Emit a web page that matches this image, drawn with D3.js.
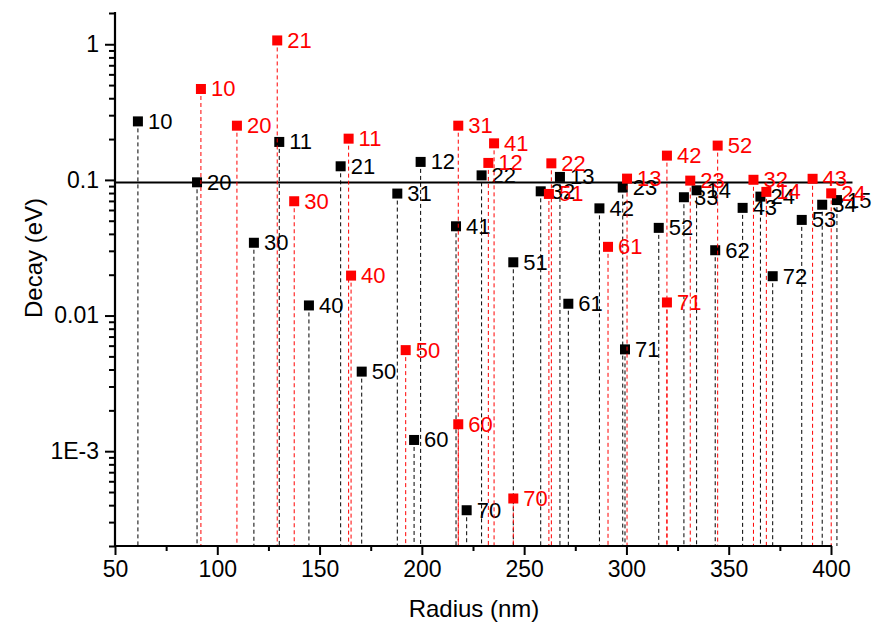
<!DOCTYPE html>
<html>
<head>
<meta charset="utf-8">
<script src="https://cdn.jsdelivr.net/npm/d3@7"></script>
<style>
  html, body { margin: 0; padding: 0; background: #fff; }
  svg { display: block; font-family: Arial, "Liberation Sans", sans-serif; }
</style>
</head>
<body>
<svg id="chart" width="874" height="634"></svg>
<script>
// ---- data ----
const blackLabels = ["10","20","30","40","50","60","70",
                     "11","21","31","41","51","61","71",
                     "12","22","32","42","52","62","72",
                     "13","23","33","43","53",
                     "14","24","34","15"];
const blackRadius = [61.2, 90.1, 117.9, 144.8, 170.6, 196.2, 221.9,
                     130.3, 160.3, 188.0, 216.7, 244.7, 271.6, 299.3,
                     199.4, 229.2, 258.1, 286.8, 315.8, 343.4, 371.5,
                     267.5, 298.2, 328.1, 356.8, 385.7,
                     334.3, 365.5, 395.7, 402.9];
const blackDecay  = [0.270, 0.0960, 0.0344, 0.01187, 0.00386, 0.00121, 0.000367,
                     0.1905, 0.126, 0.0793, 0.0455, 0.0247, 0.01222, 0.00563,
                     0.1357, 0.108, 0.0824, 0.0617, 0.0443, 0.0303, 0.0195,
                     0.1052, 0.0878, 0.0745, 0.0622, 0.0507,
                     0.0838, 0.0753, 0.0656, 0.071];

const redLabels = ["10","20","30","40","50","60","70",
                   "21","11","31","41","51","61","71",
                   "12","22","32","42","52",
                   "13","23","14","43","24"];
const redRadius = [92.0, 109.6, 137.6, 165.4, 192.1, 217.8, 244.7,
                   129.3, 164.2, 217.8, 235.3, 262.1, 291.0, 319.8,
                   232.5, 263.3, 362.1, 319.8, 344.6,
                   300.3, 331.2, 368.4, 391.0, 400.1];
const redDecay  = [0.468, 0.251, 0.0696, 0.0197, 0.00556, 0.00158, 0.000448,
                   1.067, 0.2014, 0.251, 0.186, 0.0788, 0.0321, 0.01249,
                   0.1334, 0.1325, 0.1002, 0.151, 0.179,
                   0.1022, 0.0988, 0.0816, 0.1019, 0.0796];

const refLineX = [50, 410.5];
const refLineY = 0.0955;

const xTickValues = [50, 100, 150, 200, 250, 300, 350, 400];
const xMinorTicks = [75, 125, 175, 225, 275, 325, 375];
const yTickValues = [0.001, 0.01, 0.1, 1];
const yTickLabels = ["1E-3", "0.01", "0.1", "1"];

const xTitle = "Radius (nm)";
const yTitle = "Decay (eV)";

// ---- layout ----
const svg = d3.select("#chart");
const x = d3.scaleLinear().domain([50, 400]).range([115, 831]);
const y = d3.scaleLog().domain([2e-4, 1.7]).range([546, 13]);

const yMinor = [];
[1e-4, 1e-3, 1e-2, 1e-1, 1].forEach(d => {
  for (let k = 2; k <= 9; k++) {
    const v = d * k;
    if (v >= 2e-4 - 1e-12 && v <= 1.7) yMinor.push(v);
  }
});
yMinor.push(1.7);

// reference horizontal line
svg.append("line")
  .attr("x1", x(refLineX[0])).attr("x2", x(refLineX[1]))
  .attr("y1", y(refLineY)).attr("y2", y(refLineY))
  .attr("stroke", "#000").attr("stroke-width", 2);

function drawSeries(rad, dec, labels, color) {
  const data = rad.map((r, i) => ({ r, d: dec[i], l: labels[i] }));
  const g = svg.append("g");
  g.selectAll("line.stem").data(data).enter().append("line")
    .attr("class", "stem")
    .attr("x1", d => x(d.r)).attr("x2", d => x(d.r))
    .attr("y1", d => y(d.d)).attr("y2", y(2e-4))
    .attr("stroke", color).attr("stroke-width", 1)
    .attr("stroke-dasharray", "4,3");
  g.selectAll("rect").data(data).enter().append("rect")
    .attr("x", d => x(d.r) - 5).attr("y", d => y(d.d) - 5)
    .attr("width", 10).attr("height", 10)
    .attr("fill", color);
  g.selectAll("text").data(data).enter().append("text")
    .attr("x", d => x(d.r) + 10).attr("y", d => y(d.d) + 7.5)
    .attr("fill", color).attr("font-size", 22)
    .text(d => d.l);
}
drawSeries(blackRadius, blackDecay, blackLabels, "#000");
drawSeries(redRadius, redDecay, redLabels, "#ff0000");

// axes
const xAxis = svg.append("g").attr("transform", "translate(0,546)")
  .call(d3.axisBottom(x).tickValues(xTickValues).tickSize(9).tickPadding(6).tickFormat(d3.format("d")));
const xAxisMinor = svg.append("g").attr("transform", "translate(0,546)")
  .call(d3.axisBottom(x).tickValues(xMinorTicks).tickSize(5).tickFormat(""));
const yAxis = svg.append("g").attr("transform", "translate(115,0)")
  .call(d3.axisLeft(y).tickValues(yTickValues).tickSize(10).tickPadding(6)
        .tickFormat((d, i) => yTickLabels[i]));
const yAxisMinor = svg.append("g").attr("transform", "translate(115,0)")
  .call(d3.axisLeft(y).tickValues(yMinor).tickSize(6).tickFormat(""));

[xAxis, xAxisMinor, yAxis, yAxisMinor].forEach(a => {
  a.selectAll(".domain").remove();
  a.selectAll(".tick line").attr("stroke", "#000").attr("stroke-width", 2);
  a.selectAll(".tick text").attr("fill", "#000").attr("font-size", 23)
    .attr("font-family", "Arial, 'Liberation Sans', sans-serif");
});
// axis lines (spines)
svg.append("line").attr("x1", 115).attr("x2", 115).attr("y1", 12).attr("y2", 547)
  .attr("stroke", "#000").attr("stroke-width", 2.2);
svg.append("line").attr("x1", 114).attr("x2", 832).attr("y1", 546).attr("y2", 546)
  .attr("stroke", "#000").attr("stroke-width", 2.2);

// titles
svg.append("text").attr("x", 474).attr("y", 617)
  .attr("text-anchor", "middle").attr("font-size", 24).attr("fill", "#000")
  .text(xTitle);
svg.append("text")
  .attr("transform", "translate(42,258) rotate(-90)")
  .attr("text-anchor", "middle").attr("font-size", 24).attr("fill", "#000")
  .text(yTitle);
</script>
</body>
</html>
